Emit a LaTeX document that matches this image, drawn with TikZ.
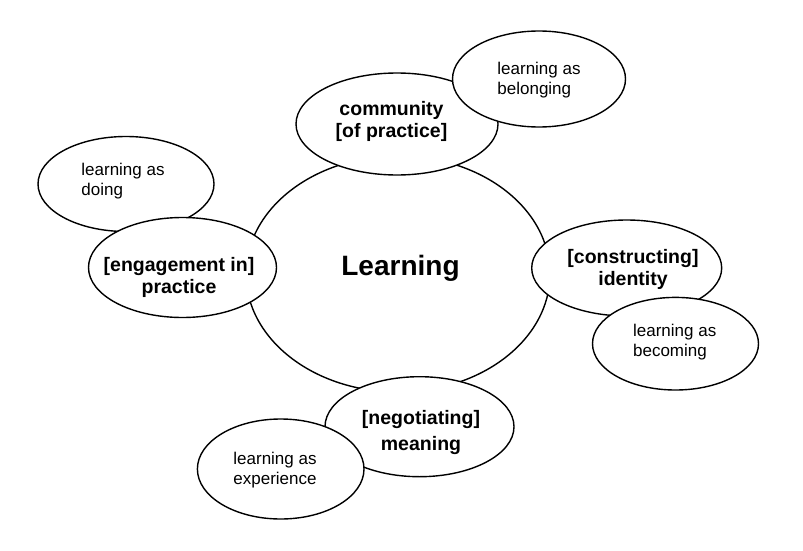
\documentclass[tikz,border=0pt]{standalone}
\usepackage{fontspec}
\setmainfont{Liberation Sans}
\usetikzlibrary{shapes.geometric}
\begin{document}
\begin{tikzpicture}[x=1pt,y=-1pt,
  blob/.style={ellipse,draw=black,fill=white,line width=1.4pt,inner sep=0pt},
  bigtxt/.style={font=\fontsize{19.5}{22}\selectfont\bfseries,align=center,inner sep=0pt},
  smalltxt/.style={font=\fontsize{17}{20}\selectfont,align=left,inner sep=0pt}]
\fill[white] (0,0) rectangle (803,551);
\useasboundingbox (0,0) rectangle (803,551);
% central ellipse
\node[blob,minimum width=304pt,minimum height=236pt] (learn) at (398,274) {};
% community / belonging
\node[blob,minimum width=202pt,minimum height=102pt] (com) at (397,124) {};
\node[blob,minimum width=173pt,minimum height=96pt] (bel) at (539,79) {};
% practice / doing
\node[blob,minimum width=176pt,minimum height=95pt] (doi) at (126,184) {};
\node[blob,minimum width=188pt,minimum height=100pt] (pra) at (182.5,267.5) {};
% identity / becoming
\node[blob,minimum width=190pt,minimum height=96pt] (ide) at (626.7,268) {};
\node[blob,minimum width=166pt,minimum height=92.6pt] (bec) at (675.5,343.7) {};
% meaning / experience
\node[blob,minimum width=189pt,minimum height=100pt] (mea) at (419.5,426.7) {};
\node[blob,minimum width=166.6pt,minimum height=100pt] (exp) at (280.7,469) {};
% texts
\node[inner sep=0pt,font=\fontsize{28}{32}\selectfont\bfseries] (tlearn) at (400.5,268.5) {Learning};
\node[bigtxt] (tcom) at (391.5,121.5) {community\\{[}of practice{]}};
\node[bigtxt] (tpra) at (179,277) {{[}engagement in{]}\\practice};
\node[bigtxt] (tide) at (633,269) {{[}constructing{]}\\identity};
\node[bigtxt] (tmea) at (421,432) {{[}negotiating{]}\\[4pt]meaning};
\node[smalltxt] (tbel) at (539,80.6) {learning as\\belonging};
\node[smalltxt] (tdoi) at (123,181) {learning as\\doing};
\node[smalltxt] (tbec) at (674.7,342.3) {learning as\\becoming};
\node[smalltxt] (texp) at (275,470.3) {learning as\\experience};
\end{tikzpicture}
\end{document}
